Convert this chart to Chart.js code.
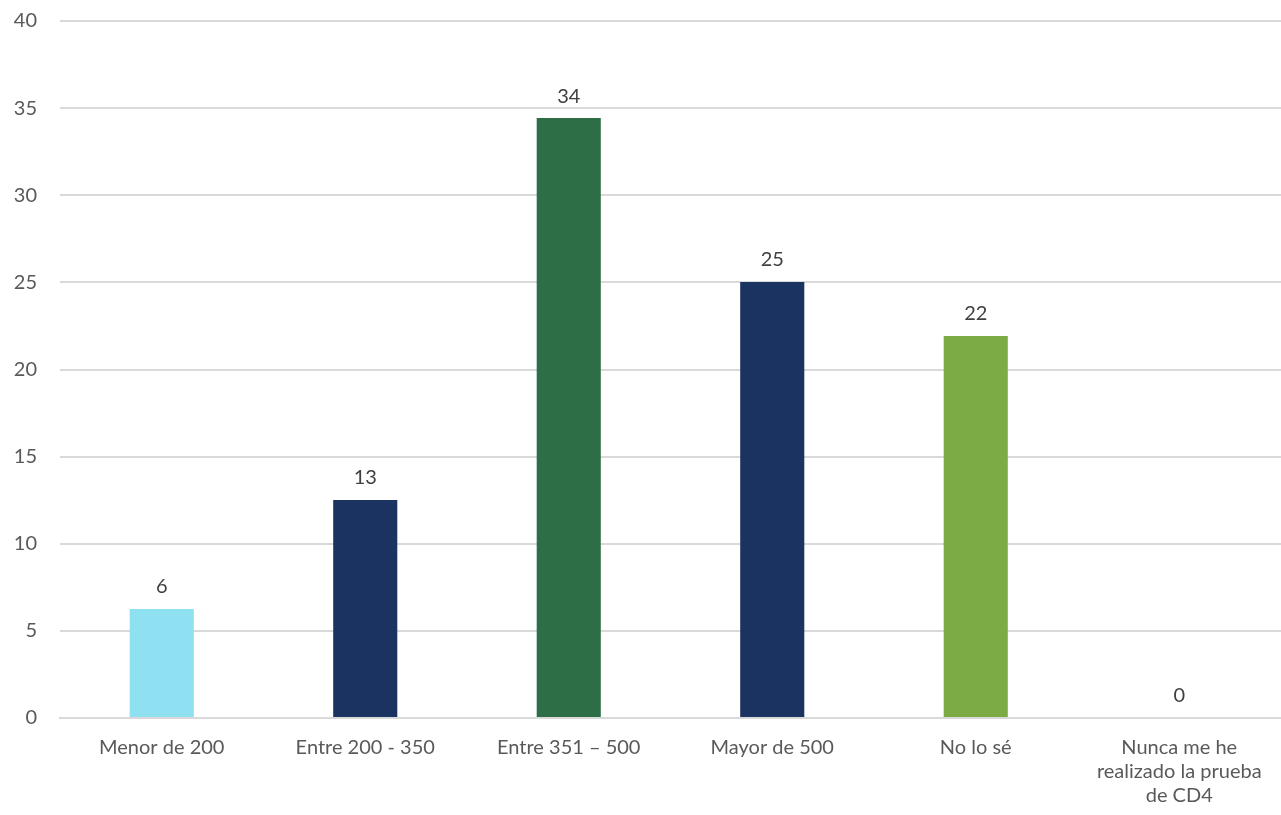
<!DOCTYPE html>
<html>
<head>
<meta charset="utf-8">
<script src="https://cdn.jsdelivr.net/npm/chart.js@4/dist/chart.umd.min.js"></script>
<style>
  html, body { margin: 0; padding: 0; background: #fff; }
  #wrap { width: 1281px; height: 815px; position: relative; }
</style>
</head>
<body>
<div id="wrap"><canvas id="cd4Chart"></canvas></div>
<script>
const categories = [
    'Menor de 200',
    'Entre 200 - 350',
    'Entre 351 \u2013 500',
    'Mayor de 500',
    'No lo s\u00e9',
    ['Nunca me he', 'realizado la prueba', 'de CD4']
];
const values = [6.26, 12.51, 34.43, 25.02, 21.92, 0];
const barColors = ['#8fe0f0', '#1b3360', '#2e6e46', '#1b3360', '#7caa45', '#1b3360'];
const yTicks = [0, 5, 10, 15, 20, 25, 30, 35, 40];

const fontFamily = '"Gill Sans MT", "Gill Sans", Lato, "Noto Sans", sans-serif';

const valueLabels = {
    id: 'valueLabels',
    afterDatasetsDraw(chart) {
        const ctx = chart.ctx;
        const meta = chart.getDatasetMeta(0);
        ctx.save();
        ctx.font = '20px ' + fontFamily;
        ctx.fillStyle = '#404040';
        ctx.textAlign = 'center';
        ctx.textBaseline = 'bottom';
        meta.data.forEach((bar, i) => {
            ctx.fillText(String(Math.round(values[i])), bar.x, bar.y - 12);
        });
        ctx.restore();
    }
};

new Chart(document.getElementById('cd4Chart'), {
    type: 'bar',
    data: {
        labels: categories,
        datasets: [{
            data: values,
            backgroundColor: barColors,
            barPercentage: 0.63,
            categoryPercentage: 0.5
        }]
    },
    options: {
        responsive: true,
        maintainAspectRatio: false,
        animation: false,
        layout: { padding: { top: 21, right: 0, left: 0, bottom: 0 } },
        plugins: {
            legend: { display: false },
            tooltip: { enabled: false }
        },
        scales: {
            x: {
                grid: { display: false, drawTicks: false },
                border: { display: true, color: '#d9d9d9', width: 2 },
                ticks: {
                    color: '#595959',
                    font: { family: fontFamily, size: 20, lineHeight: 1.2 },
                    padding: 18,
                    maxRotation: 0,
                    autoSkip: false
                },
                afterFit(scale) {
                    scale.height = 97;
                    scale.paddingLeft = 0;
                    scale.paddingRight = 0;
                }
            },
            y: {
                min: 0,
                max: 40,
                afterBuildTicks(scale) { scale.ticks = yTicks.map(v => ({ value: v })); },
                grid: { color: '#d9d9d9', lineWidth: 2, drawTicks: false },
                border: { display: false },
                ticks: {
                    color: '#595959',
                    font: { family: fontFamily, size: 20 },
                    padding: 23
                },
                afterFit(scale) {
                    scale.width = 60;
                    scale.paddingTop = 0;
                    scale.paddingBottom = 0;
                }
            }
        }
    },
    plugins: [valueLabels]
});
</script>
</body>
</html>
